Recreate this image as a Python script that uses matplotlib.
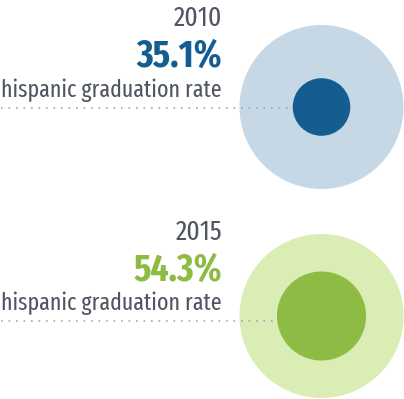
import matplotlib.pyplot as plt
from matplotlib.patches import Circle

# data
years = ["2010", "2015"]
rates = [35.1, 54.3]
label = "hispanic graduation rate"
dark_colors = ["#145d91", "#8dbb44"]
light_colors = ["#c6d8e6", "#d9edb4"]

plt.rcParams["font.family"] = ["Fira Sans Extra Condensed", "Fira Sans Condensed", "DejaVu Sans"]

W, H = 404, 399
fig = plt.figure(figsize=(W / 100, H / 100), dpi=100)
ax = fig.add_axes([0, 0, 1, 1])
ax.set_xlim(0, W)
ax.set_ylim(H, 0)
ax.axis("off")

text_gray = "#4f5562"
R = 82
cx = 321.5
centers = [107, 316]
line_y = [107.5, 321]

for i in range(len(years)):
    cy = centers[i]
    ax.add_patch(Circle((cx, cy), R, color=light_colors[i], lw=0, zorder=1))
    r_in = R * rates[i] / 100
    ax.plot([1, cx - r_in], [line_y[i], line_y[i]], color="#a3a7ad",
            lw=1.2, ls=(0, (1, 3.5)), zorder=2)
    ax.add_patch(Circle((cx, cy), r_in, color=dark_colors[i], lw=0, zorder=3))

    ly = line_y[i]
    ax.text(222, ly - 81, years[i], ha="right", va="baseline",
            fontsize=20, color=text_gray)
    ax.text(222, ly - 40.5, f"{rates[i]}%", ha="right", va="baseline",
            fontsize=27.5, fontweight="bold", color=dark_colors[i])
    ax.text(222, ly - 11, label, ha="right", va="baseline",
            fontsize=17.2, color=text_gray)

fig.savefig("out.png", dpi=100)
